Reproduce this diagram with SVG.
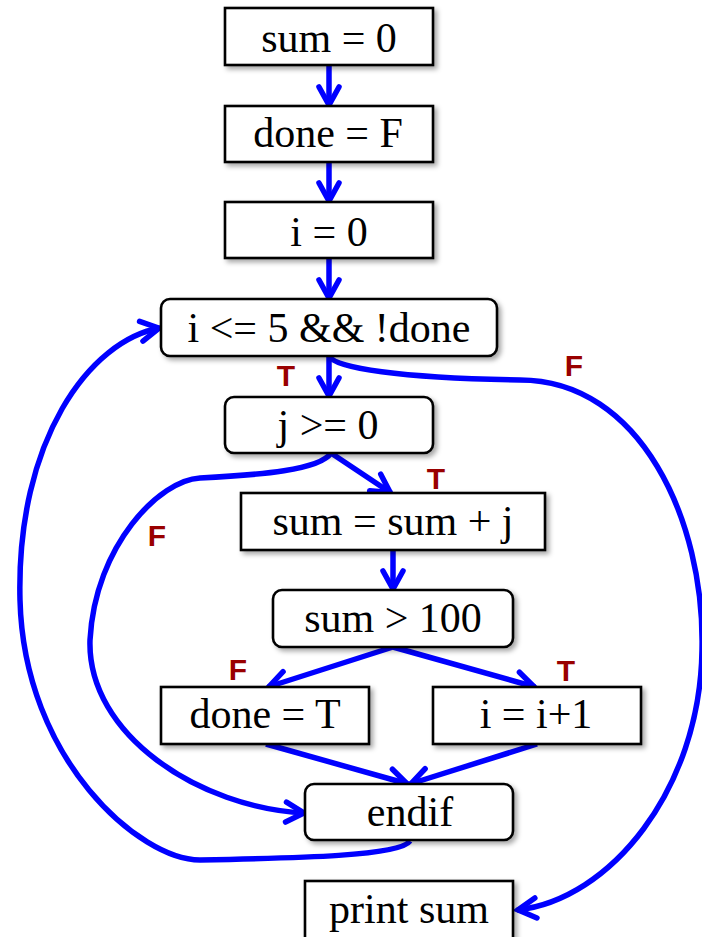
<svg xmlns="http://www.w3.org/2000/svg" width="702" height="937" viewBox="0 0 702 937">
<style>
.box{fill:#fff;stroke:#000;stroke-width:2.6;filter:url(#sh)}
.t{font-family:"Liberation Serif","Times New Roman",serif;font-size:42px;fill:#000;text-anchor:middle}
.lb{font-family:"Liberation Sans",Arial,sans-serif;font-weight:bold;font-size:30px;fill:#990000;text-anchor:middle}
.c{fill:none;stroke:#0000ff;stroke-width:5.5;marker-end:url(#ah)}
</style>
<defs>
<filter id="sh" x="-10%" y="-20%" width="130%" height="150%">
<feDropShadow dx="3" dy="3" stdDeviation="2.5" flood-color="#000" flood-opacity="0.35"/>
</filter>
<marker id="ah" markerUnits="userSpaceOnUse" markerWidth="40" markerHeight="40" refX="0" refY="0" orient="auto" overflow="visible">
<path d="M-19,-10 L-1,0 L-19,10" fill="none" stroke="#0000ff" stroke-width="5.5" stroke-linecap="round"/>
</marker>
</defs>
<g id="connectors">
<path class="c" d="M329,65 L329,106"/>
<path class="c" d="M329,162 L329,202"/>
<path class="c" d="M329,258 L329,299"/>
<path class="c" d="M329,356 L329,397"/>
<path class="c" d="M329,356 C335,368 400,378 520,380 C640,380 705,520 702,650 C700,790 610,900 517,910"/>
<path class="c" d="M331,453 L391,493"/>
<path class="c" d="M331,453 C320,470 260,475 200,478 C160,480 95,545 90,640 C87,735 200,808 305,813"/>
<path class="c" d="M393,550 L393,590"/>
<path class="c" d="M393,647 L268,687"/>
<path class="c" d="M393,647 L535,687"/>
<path class="c" d="M266,744 L408,784"/>
<path class="c" d="M537,744 L410,784"/>
<path class="c" d="M410,841 C400,856 300,858 200,860 C140,860 24,760 20,600 C16,440 90,340 160,328"/>
</g>
<g id="n1"><rect class="box" x="225" y="8" width="208" height="57"/><text class="t" x="329" y="52">sum = 0</text></g>
<g id="n2"><rect class="box" x="225" y="106" width="208" height="56"/><text class="t" x="328" y="147">done = F</text></g>
<g id="n3"><rect class="box" x="225" y="202" width="208" height="56"/><text class="t" x="329" y="246">i = 0</text></g>
<g id="n4"><rect class="box" x="161" y="299" width="336" height="57" rx="9"/><text class="t" x="329" y="342">i &lt;= 5 &amp;&amp; !done</text></g>
<g id="n5"><rect class="box" x="225" y="397" width="208" height="56" rx="9"/><text class="t" x="328" y="439">j &gt;= 0</text></g>
<g id="n6"><rect class="box" x="241" y="493" width="304" height="57"/><text class="t" x="393" y="535">sum = sum + j</text></g>
<g id="n7"><rect class="box" x="273" y="590" width="240" height="57" rx="9"/><text class="t" x="393" y="632">sum &gt; 100</text></g>
<g id="n8"><rect class="box" x="161" y="687" width="208" height="57"/><text class="t" x="265" y="728">done = T</text></g>
<g id="n9"><rect class="box" x="433" y="687" width="208" height="57"/><text class="t" x="536" y="728">i = i+1</text></g>
<g id="n10"><rect class="box" x="305" y="784" width="208" height="56" rx="9"/><text class="t" x="410" y="826">endif</text></g>
<g id="n11"><rect class="box" x="305" y="881" width="208" height="66"/><text class="t" x="409" y="923">print sum</text></g>
<g id="labels">
<text class="lb" x="286" y="386">T</text>
<text class="lb" x="574" y="376">F</text>
<text class="lb" x="436" y="489">T</text>
<text class="lb" x="157" y="546">F</text>
<text class="lb" x="238" y="680">F</text>
<text class="lb" x="566" y="681">T</text>
</g>
</svg>
